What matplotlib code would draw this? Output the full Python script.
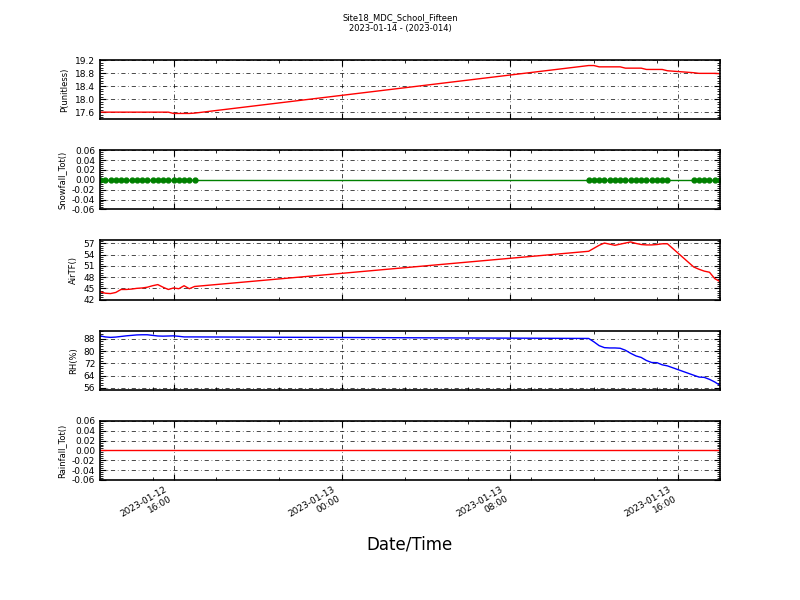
import numpy as np
import pandas as pd
import matplotlib
matplotlib.use('Agg')
import matplotlib.pyplot as plt
import matplotlib.dates as mdates
from matplotlib.ticker import AutoMinorLocator

# 15-minute records, with two gaps in the logger data
times = list(pd.date_range('2023-01-12 12:30', '2023-01-12 17:00', freq='15min')) + \
        list(pd.date_range('2023-01-13 11:45', '2023-01-13 15:30', freq='15min')) + \
        list(pd.date_range('2023-01-13 16:45', '2023-01-13 18:00', freq='15min'))

pres = [17.60, 17.60, 17.60, 17.60, 17.60, 17.60, 17.60, 17.60, 17.60, 17.60,
        17.60, 17.60, 17.60, 17.60, 17.56, 17.56, 17.56, 17.56, 17.57,
        19.03, 19.03, 18.99, 18.99, 18.99, 18.99, 18.99, 18.95, 18.95, 18.95,
        18.95, 18.91, 18.91, 18.91, 18.91, 18.87,
        18.81, 18.79, 18.79, 18.79, 18.79, 18.78]

snow = [0.0] * 41

airt = [44.1, 43.7, 43.6, 43.9, 44.7, 44.7, 44.8, 45.0, 45.1, 45.3,
        45.7, 46.0, 45.3, 44.7, 45.1, 44.9, 45.7, 44.9, 45.5,
        54.9, 55.7, 56.5, 57.1, 56.8, 56.5, 56.8, 57.1, 57.4, 57.0,
        56.7, 56.6, 56.6, 56.7, 56.9, 56.9,
        50.7, 50.1, 49.6, 49.3, 47.6, 46.8]

rh = [89.9, 89.2, 88.9, 89.1, 89.5, 89.9, 90.2, 90.5, 90.6, 90.6,
      90.2, 89.8, 89.7, 89.8, 89.9, 89.6, 89.2, 89.2, 89.2,
      88.2, 86.0, 83.5, 82.2, 82.0, 82.0, 81.8, 80.5, 78.5, 76.8,
      75.8, 73.8, 72.5, 72.4, 71.0, 70.3,
      64.2, 63.0, 62.8, 61.5, 59.8, 57.6]

rain = [0.0] * 41

labels = ['P(unitless)', 'Snowfall_Tot()', 'AirTF()', 'RH(%)', 'Rainfall_Tot()']
series = [pres, snow, airt, rh, rain]
ylims = [(17.385, 19.2), (-0.06, 0.06), (42, 57.8), (54.7, 93.3), (-0.06, 0.06)]
yticks = [[17.6, 18.0, 18.4, 18.8, 19.2],
          [-0.06, -0.04, -0.02, 0.0, 0.02, 0.04, 0.06],
          [42, 45, 48, 51, 54, 57],
          [56, 64, 72, 80, 88],
          [-0.06, -0.04, -0.02, 0.0, 0.02, 0.04, 0.06]]
yfmt = ['%.1f', '%.2f', '%d', '%d', '%.2f']

plt.rcParams['axes.unicode_minus'] = False
plt.rcParams['font.family'] = 'DejaVu Sans'

fig, axes = plt.subplots(5, 1, sharex=True, figsize=(8, 6), dpi=100)
fig.subplots_adjust(left=0.125, right=0.9, top=0.9, bottom=0.2, hspace=0.525)
fig.suptitle('Site18_MDC_School_Fifteen\n2023-01-14 - (2023-014)', fontsize=6, y=0.978)

for i, ax in enumerate(axes):
    if i == 1:
        ax.plot(times, series[i], color=(0, 0.5, 0), marker='o', markersize=3.5, lw=1.0)
    elif i == 3:
        ax.plot(times, series[i], color='blue', lw=1.0)
    else:
        ax.plot(times, series[i], color='red', lw=1.0)
    ax.set_ylim(ylims[i])
    ax.set_yticks(yticks[i])
    ax.yaxis.set_major_formatter(matplotlib.ticker.FormatStrFormatter(yfmt[i]))
    ax.yaxis.set_minor_locator(AutoMinorLocator(5))
    ax.set_ylabel(labels[i], fontsize=6)
    ax.grid(True, which='major', color='black', linestyle=(0, (6, 4, 1, 4)), linewidth=0.5)
    ax.tick_params(which='both', direction='in', top=True, right=True, labelsize=6.5)
    ax.tick_params(which='major', length=4)
    ax.tick_params(which='minor', length=2)
    for s in ax.spines.values():
        s.set_linewidth(1.2)

ax = axes[-1]
ax.set_xlim(times[0], times[-1])
ax.xaxis.set_major_locator(mdates.HourLocator(byhour=[0, 8, 16]))
ax.xaxis.set_minor_locator(mdates.HourLocator(byhour=range(0, 24, 3)))
ax.xaxis.set_major_formatter(mdates.DateFormatter('%Y-%m-%d\n%H:%M'))
for lab in ax.get_xticklabels():
    lab.set_rotation(30)
    lab.set_ha('right')
ax.set_xlabel('Date/Time', fontsize=12, labelpad=5.5)

plt.savefig('out.png', dpi=100)
